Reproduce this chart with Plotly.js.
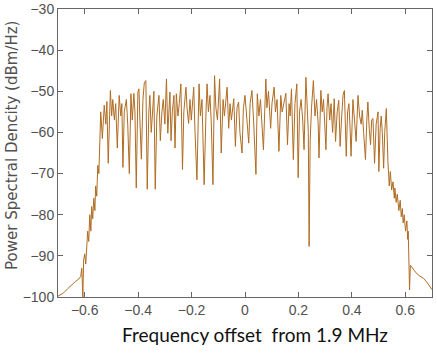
<!DOCTYPE html>
<html>
<head>
<meta charset="utf-8">
<script src="https://cdn.plot.ly/plotly-3.0.1.min.js"></script>
<style>
  html, body { margin: 0; padding: 0; background: #fff; }
  #chart { width: 437px; height: 356px; }
</style>
</head>
<body>
<div id="chart"></div>
<script>
// Frequency offset (MHz, relative to 1.9 MHz) of each spectrum sample
const freqOffset = [
  -0.700, -0.679, -0.664, -0.649, -0.634, -0.622, -0.615, -0.611, -0.607, -0.604,
  -0.600, -0.596, -0.592, -0.589, -0.585, -0.581, -0.577, -0.574, -0.570, -0.566,
  -0.562, -0.559, -0.555, -0.551, -0.547, -0.544, -0.540,
  -0.534, -0.527, -0.521, -0.517, -0.512, -0.504, -0.499, -0.495, -0.489, -0.484,
  -0.478, -0.471, -0.465, -0.461, -0.457, -0.452, -0.444, -0.439, -0.433, -0.427,
  -0.422, -0.416, -0.412, -0.407, -0.401, -0.397, -0.394, -0.388, -0.382, -0.377,
  -0.371, -0.366, -0.360, -0.356, -0.351, -0.345, -0.341, -0.336, -0.330, -0.322,
  -0.317, -0.311, -0.306, -0.300, -0.294, -0.289, -0.281, -0.277, -0.272, -0.266,
  -0.262, -0.257, -0.251, -0.246, -0.240, -0.234, -0.229, -0.221, -0.217, -0.211,
  -0.206, -0.201, -0.192, -0.187, -0.180, -0.172, -0.167, -0.161, -0.153, -0.146,
  -0.142, -0.137, -0.131, -0.126, -0.120, -0.114, -0.109, -0.103, -0.095, -0.089,
  -0.082, -0.077, -0.071, -0.067, -0.061, -0.056, -0.051, -0.042, -0.036, -0.030,
  -0.024, -0.019, -0.011, -0.006, 0.000, 0.006, 0.014, 0.019, 0.026, 0.032,
  0.041, 0.046, 0.052, 0.058, 0.064, 0.069, 0.078, 0.082, 0.088, 0.096,
  0.101, 0.109, 0.114, 0.120, 0.127, 0.134, 0.139, 0.144, 0.153, 0.159,
  0.165, 0.169, 0.174, 0.181, 0.187, 0.194, 0.199, 0.204, 0.210, 0.216,
  0.221, 0.228, 0.232, 0.237, 0.240, 0.244, 0.249, 0.256, 0.262, 0.268,
  0.274, 0.277, 0.284, 0.289, 0.294, 0.303, 0.307, 0.311, 0.317, 0.322,
  0.328, 0.334, 0.339, 0.345, 0.351, 0.356, 0.362, 0.367, 0.372, 0.379,
  0.384, 0.389, 0.394, 0.397, 0.404, 0.409, 0.416, 0.423, 0.429, 0.435,
  0.439, 0.444, 0.451, 0.456, 0.460, 0.465, 0.470, 0.474, 0.479, 0.485,
  0.491, 0.498, 0.501, 0.506, 0.510, 0.514, 0.519, 0.523, 0.529,
  0.535, 0.540, 0.544, 0.549, 0.554, 0.559, 0.561, 0.566, 0.570, 0.576,
  0.581, 0.585, 0.589, 0.592, 0.596, 0.601, 0.606, 0.609, 0.611, 0.614,
  0.616, 0.619, 0.622, 0.633, 0.637, 0.652, 0.669, 0.682, 0.697, 0.700
];

// Power spectral density (dBm/Hz) at each offset
const psd = [
  -99.8, -99.0, -98.0, -97.0, -96.2, -95.6, -95.0, -93.0, -100.0, -91.0,
  -89.5, -92.0, -86.0, -84.0, -86.5, -80.0, -84.0, -78.0, -81.0, -76.0,
  -79.0, -73.0, -75.5, -68.0, -70.0, -65.0, -55.0,
  -61.5, -53.4, -58.0, -52.5, -67.5, -49.8, -56.0, -52.0, -57.0, -53.0,
  -63.8, -51.0, -56.0, -53.0, -68.5, -55.0, -52.0, -58.0, -70.0, -50.6,
  -57.0, -50.5, -55.0, -73.5, -50.2, -49.4, -56.0, -66.5, -52.0, -48.0,
  -47.4, -73.8, -55.0, -51.0, -60.0, -54.0, -50.0, -73.8, -56.0, -51.0,
  -62.0, -55.0, -52.0, -58.0, -47.0, -60.2, -50.2, -62.0, -55.0, -51.0,
  -63.8, -50.6, -56.0, -53.0, -48.2, -69.0, -55.0, -49.0, -54.0, -57.8,
  -52.0, -57.0, -49.0, -60.0, -71.5, -48.2, -56.0, -52.0, -72.7, -55.0,
  -48.2, -55.0, -51.0, -58.0, -72.7, -46.2, -54.0, -57.0, -47.0, -65.0,
  -52.0, -56.0, -51.0, -49.0, -59.0, -53.0, -57.0, -51.8, -63.4, -54.0,
  -52.6, -60.0, -65.0, -54.0, -51.0, -56.0, -62.6, -53.0, -49.8, -57.0,
  -70.2, -50.6, -56.0, -52.0, -58.0, -64.2, -47.0, -54.0, -50.0, -59.0,
  -53.0, -49.0, -55.0, -52.0, -64.6, -51.0, -55.0, -53.0, -50.5, -63.0,
  -53.0, -56.0, -49.4, -66.6, -53.0, -48.2, -71.0, -55.0, -52.0, -57.0,
  -64.2, -46.6, -54.0, -60.0, -87.7, -62.0, -54.0, -47.4, -56.0, -52.0,
  -58.0, -66.2, -49.8, -55.0, -52.0, -64.2, -54.0, -50.6, -57.0, -53.0,
  -60.0, -51.8, -62.2, -55.0, -52.2, -63.4, -56.0, -51.0, -49.8, -65.8,
  -55.0, -53.0, -60.0, -65.8, -52.0, -57.0, -62.2, -51.0, -56.0, -58.0,
  -54.6, -60.0, -66.6, -57.0, -52.6, -59.0, -63.0, -57.0, -56.6, -67.5,
  -58.0, -55.0, -69.5, -59.0, -56.0, -60.0, -68.7, -60.0, -54.2,
  -67.0, -73.0, -69.5, -74.0, -72.0, -76.0, -73.5, -77.0, -75.0, -79.0,
  -76.5, -80.5, -78.5, -82.0, -80.0, -84.0, -81.5, -86.0, -84.0, -90.0,
  -98.3, -92.3, -92.5, -93.5, -93.9, -94.8, -95.5, -96.5, -97.9, -98.2
];

const xTickVals = [-0.6, -0.4, -0.2, 0, 0.2, 0.4, 0.6];
const yTickVals = [-100, -90, -80, -70, -60, -50, -40, -30];

const tickFont = { family: 'Liberation Sans', size: 14, color: '#505050' };

const trace = {
  x: freqOffset,
  y: psd,
  type: 'scatter',
  mode: 'lines',
  line: { color: 'rgb(176,108,34)', width: 1 },
  hoverinfo: 'x+y'
};

const axisCommon = {
  ticks: 'inside',
  ticklen: 5,
  tickcolor: '#666',
  mirror: 'ticks',
  showline: true,
  linecolor: '#666',
  linewidth: 1,
  showgrid: false,
  zeroline: false,
  tickfont: tickFont,
  ticklabeloverflow: 'allow'
};

const layout = {
  width: 437,
  height: 356,
  margin: { l: 58, r: 5, t: 9, b: 59 },
  paper_bgcolor: '#ffffff',
  plot_bgcolor: '#ffffff',
  showlegend: false,
  xaxis: Object.assign({}, axisCommon, {
    range: [-0.7, 0.7],
    tickvals: xTickVals
  }),
  yaxis: Object.assign({}, axisCommon, {
    range: [-100, -30],
    tickvals: yTickVals
  }),
  annotations: [
    {
      // y-axis label
      text: 'Power Spectral Dencity (dBm/Hz)',
      xref: 'paper', yref: 'paper',
      x: -0.123, y: 0.528,
      xanchor: 'center', yanchor: 'middle',
      textangle: -90,
      showarrow: false,
      font: { family: 'DejaVu Sans', size: 15, color: '#505050' }
    },
    {
      // x-axis label
      text: 'Frequency offset\u00a0 from 1.9 MHz',
      xref: 'paper', yref: 'paper',
      x: 0.527, y: -0.13,
      xanchor: 'center', yanchor: 'middle',
      showarrow: false,
      font: { family: 'Lato', size: 19, color: '#111' }
    }
  ]
};

Plotly.newPlot('chart', [trace], layout, { staticPlot: true, displayModeBar: false });
</script>
</body>
</html>
